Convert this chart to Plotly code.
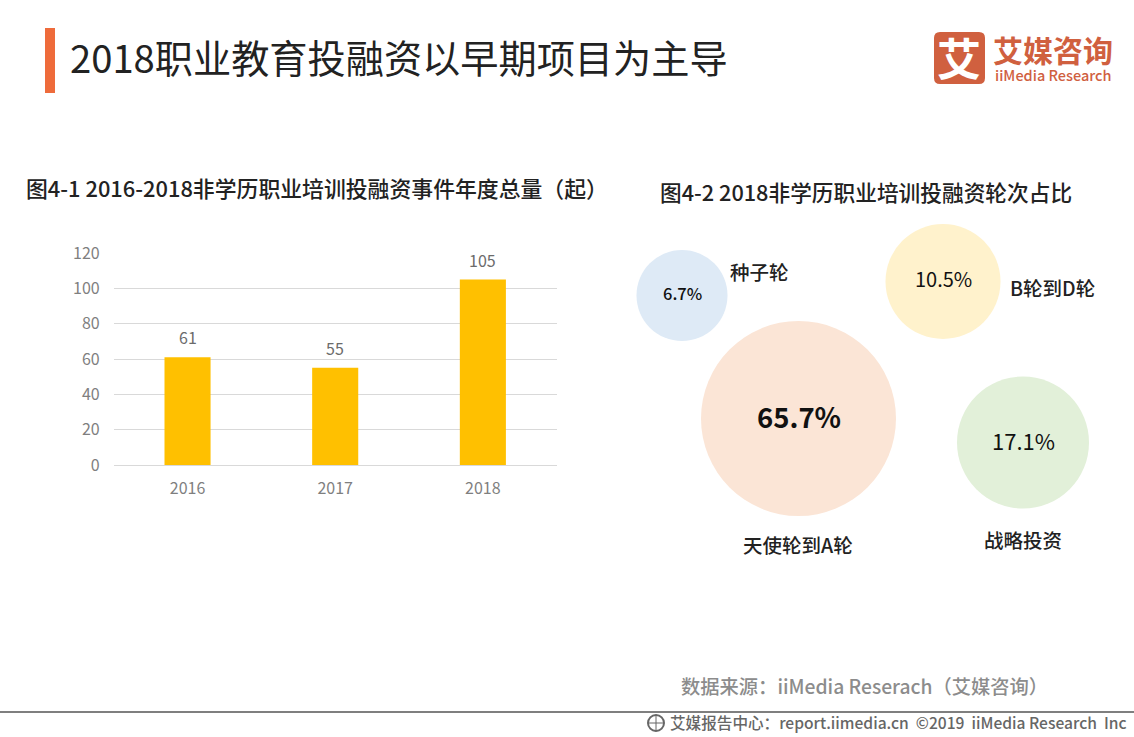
import plotly.graph_objects as go

W, H = 1134, 737
CJK = "Noto Sans CJK SC"

years = ["2016", "2017", "2018"]
events = [61, 55, 105]
y_ticks = [0, 20, 40, 60, 80, 100, 120]

round_names = ["种子轮", "B轮到D轮", "天使轮到A轮", "战略投资"]
round_share = [6.7, 10.5, 65.7, 17.1]
round_labels = ["6.7%", "10.5%", "65.7%", "17.1%"]
bubble_x = [682, 943, 798.5, 1023]
bubble_y = [295.5, 281.5, 418.5, 442.5]
bubble_d = [91, 115, 195, 132]
bubble_colors = ["#DEEAF6", "#FFF2CC", "#FBE5D6", "#E2F0D9"]
bubble_font = [16.5, 20, 27.5, 22]
bubble_weight = [500, 400, 700, 400]

fx = lambda p: p / W
fy = lambda p: 1 - p / H

fig = go.Figure()
fig.add_trace(go.Bar(
    x=years, y=events, width=0.312, marker=dict(color="#FFC000", line_width=0), xaxis="x", yaxis="y",
))
fig.add_trace(go.Scatter(
    x=bubble_x, y=bubble_y, mode="markers",
    marker=dict(size=bubble_d, sizemode="diameter", color=bubble_colors, line_width=0, opacity=1),
    customdata=round_share, xaxis="x2", yaxis="y2", cliponaxis=False,
))

for x, y, t, s, w in zip(bubble_x, bubble_y, round_labels, bubble_font, bubble_weight):
    fig.add_annotation(text=t, x=x, y=y, xref="x2", yref="y2", showarrow=False, yanchor="middle", yshift=3,
                       font=dict(family=CJK, size=s, color="#111111", weight=w))

for i, v in enumerate(events):
    fig.add_annotation(text=str(v), x=i, y=v, xref="x", yref="y", showarrow=False, yshift=20,
                       yanchor="middle", font=dict(family=CJK, size=16, color="#6B6B6B"))


def label(text, x, y, size, color="#111111", anchor="center", weight=400):
    fig.add_annotation(text=text, x=fx(x), y=fy(y), xref="paper", yref="paper", showarrow=False,
                       xanchor=anchor, yanchor="middle", borderpad=0,
                       font=dict(family=CJK, size=size, color=color, weight=weight))


label("2018职业教育投融资以早期项目为主导", 69, 57, 38.2, "#222222", "left")
label("图4-1 2016-2018非学历职业培训投融资事件年度总量（起）", 25, 188, 21.85, "#222222", "left", 500)
label("图4-2 2018非学历职业培训投融资轮次占比", 659, 192, 21.7, "#222222", "left", 500)

for name, x, y in zip(round_names, [759, 1052, 798, 1023], [271, 287, 544, 539]):
    label(name, x, y, 19.5, "#222222", "center", 500)

label("数据来源：iiMedia Reserach（艾媒咨询）", 680, 686, 19.3, "#8C8C8C", "left", 500)
label("艾媒报告中心：report.iimedia.cn  ©2019  iiMedia Research  Inc", 669, 722, 15.6, "#666666", "left", 500)

# logo
label("艾媒咨询", 992, 49, 30, "#D0603F", "left", 700)
label("iiMedia Research", 994, 75, 14.5, "#D0603F", "left", 500)
label("艾", 959, 57, 44, "#FFFFFF", "center", 700)

shapes = [
    dict(type="rect", xref="paper", yref="paper", x0=fx(45), x1=fx(55), y0=fy(93), y1=fy(28),
         fillcolor="#EE6B3B", line_width=0),
    dict(type="rect", xref="paper", yref="paper", x0=0, x1=1, y0=fy(713), y1=fy(711),
         fillcolor="#7F7F7F", line_width=0),
    dict(type="path", xref="paper", yref="paper", layer="below", line_width=0, fillcolor="#D0603F",
         path=f"M{fx(940)},{fy(32)} L{fx(979)},{fy(32)} Q{fx(985)},{fy(32)} {fx(985)},{fy(38)} "
              f"L{fx(985)},{fy(78)} Q{fx(985)},{fy(84)} {fx(979)},{fy(84)} L{fx(940)},{fy(84)} "
              f"Q{fx(934)},{fy(84)} {fx(934)},{fy(78)} L{fx(934)},{fy(38)} Q{fx(934)},{fy(32)} {fx(940)},{fy(32)} Z"),
    dict(type="circle", xref="paper", yref="paper", x0=fx(648), x1=fx(664), y0=fy(731), y1=fy(715),
         line=dict(color="#666666", width=2)),
    dict(type="line", xref="paper", yref="paper", x0=fx(648), x1=fx(664), y0=fy(723), y1=fy(723),
         line=dict(color="#666666", width=1)),
    dict(type="line", xref="paper", yref="paper", x0=fx(656), x1=fx(656), y0=fy(715), y1=fy(731),
         line=dict(color="#666666", width=1)),
]

tick_font = dict(family=CJK, size=16, color="#7F7F7F")
fig.update_layout(
    width=W, height=H, margin=dict(l=0, r=0, t=0, b=0, autoexpand=False),
    paper_bgcolor="#FFFFFF", plot_bgcolor="#FFFFFF",
    showlegend=False, shapes=shapes, font=dict(family=CJK),
    xaxis=dict(domain=[fx(113.7), fx(556.7)], anchor="y", type="category", categoryorder="array", categoryarray=years,
               range=[-0.5, 2.5], showgrid=False, showline=False, zeroline=False,
               ticks="", tickfont=tick_font, ticklabelstandoff=12),
    yaxis=dict(domain=[fy(465), fy(253)], anchor="x", range=[0, 120], tickvals=y_ticks, showline=False,
               zeroline=True, zerolinecolor="#D9D9D9", zerolinewidth=1,
               gridcolor="#D9D9D9", gridwidth=1, ticks="", tickfont=tick_font, ticklabelstandoff=13),
    xaxis2=dict(domain=[fx(620), 1], range=[620, W], anchor="y2", visible=False),
    yaxis2=dict(domain=[fy(600), fy(200)], range=[600, 200], anchor="x2", visible=False),
)
fig.write_html("out.html", config={"displayModeBar": False}, post_script="document.body.style.margin='0';")
